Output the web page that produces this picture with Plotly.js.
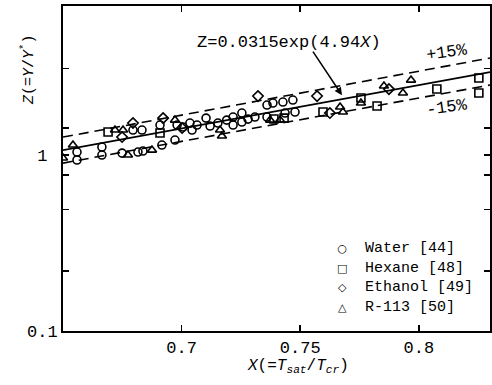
<!DOCTYPE html>
<html>
<head>
<meta charset="utf-8">
<script src="https://cdn.plot.ly/plotly-3.0.1.min.js"></script>
<style>html,body{margin:0;padding:0;background:#fff;}#chart{width:492px;height:385px;}</style>
</head>
<body>
<div id="chart"></div>
<script>
// ---- data ----
const waterX = [0.6559,0.6559,0.6664,0.6664,0.6749,0.6816,0.6837,0.6917,0.6972,0.6795,0.6833,0.6909,0.6981,0.7035,0.7044,0.7006,0.7065,0.7103,0.7120,0.7153,0.7217,0.7217,0.7254,0.7254,0.7309,0.7360,0.7360,0.7385,0.7427,0.7469,0.7436,0.7478,0.7190,0.7280];
const waterY = [1.040,0.937,1.110,1.000,1.026,1.040,1.054,1.140,1.217,1.387,1.387,1.481,1.481,1.520,1.387,1.442,1.481,1.622,1.461,1.520,1.644,1.481,1.733,1.540,1.644,1.923,1.644,1.975,2.001,2.053,1.733,1.755,1.580,1.600];
const hexaneX = [0.6690,0.6909,0.7389,0.7432,0.7596,0.7756,0.7824,0.8076,0.8253,0.8253];
const hexaneY = [1.351,1.334,1.601,1.622,1.755,2.108,1.898,2.371,2.738,2.250];
const ethanolX = [0.6749,0.6795,0.6922,0.7002,0.7322,0.7571,0.7625,0.7874];
const ethanolY = [1.266,1.520,1.622,1.424,2.164,2.164,1.733,2.371];
const r113X = [0.6500,0.6542,0.6774,0.6875,0.6719,0.6753,0.6972,0.7162,0.7170,0.7373,0.7415,0.7668,0.7680,0.7756,0.7853,0.7933,0.7967];
const r113Y = [0.962,1.140,1.000,1.067,1.387,1.387,1.580,1.387,1.283,1.580,1.580,1.874,1.755,1.975,2.466,2.250,2.667];
const lineX = [0.65, 0.83];
const fitY = [1.067, 2.96];
const upperY = [1.265, 3.56];
const lowerY = [0.90, 2.50];
const seriesNames = ['Water [44]','Hexane [48]','Ethanol [49]','R-113 [50]'];
const legendGlyphs = ['\u25CB','\u25A1','\u25C7','\u25B3'];
const xTickVals = [0.7, 0.75, 0.8];
const xTickText = ['0.7','0.75','0.8'];
const yTickVals = [0.1, 1];
const yTickText = ['0.1','1\u00a0'];
const yMinorTickVals = [0.22, 0.49, 0.77, 1.42, 3.1];
const fitLabel = 'Z=0.0315exp(4.94<i>X</i>)';

const FONT = 'Liberation Mono, Courier New, monospace';
const mk = (sym) => ({symbol: sym, size: 8, color: 'black', line: {color: 'black', width: 1.6}});

const traces = [
  {x: lineX, y: upperY, mode: 'lines', line: {color: 'black', width: 1.6, dash: '10px,6px'}, hoverinfo: 'skip'},
  {x: lineX, y: lowerY, mode: 'lines', line: {color: 'black', width: 1.6, dash: '10px,6px'}, hoverinfo: 'skip'},
  {x: lineX, y: fitY, mode: 'lines', line: {color: 'black', width: 1.8}, hoverinfo: 'skip'},
  {x: waterX, y: waterY, mode: 'markers', name: seriesNames[0], marker: mk('circle-open')},
  {x: hexaneX, y: hexaneY, mode: 'markers', name: seriesNames[1], marker: mk('square-open')},
  {x: ethanolX, y: ethanolY, mode: 'markers', name: seriesNames[2], marker: mk('diamond-open')},
  {x: r113X, y: r113Y, mode: 'markers', name: seriesNames[3], marker: mk('triangle-up-open')}
];

const axisCommon = {
  showline: true, linecolor: 'black', linewidth: 2, mirror: 'ticks',
  ticks: 'inside', ticklen: 6, tickwidth: 1.5, tickcolor: 'black',
  showgrid: false, zeroline: false,
  tickfont: {family: FONT, size: 17, color: 'black'}
};

const LEG_SIZE = 15;
const glyphText = legendGlyphs.map(g => '<span style="font-family:DejaVu Sans;font-size:11px">' + g + '</span>').join('<br>');
const nameText = seriesNames.join('<br>');

const annotations = [
  {xref: 'paper', yref: 'paper', x: 0.309, y: 0.889, xanchor: 'left', yanchor: 'middle', text: fitLabel, showarrow: false, font: {family: FONT, size: 17}},
  {x: 0.7676, y: Math.log10(2.19), text: '', showarrow: true, ax: -30, ay: -45, arrowhead: 2, arrowsize: 1, arrowwidth: 1.5, arrowcolor: 'black'},
  {xref: 'paper', yref: 'paper', x: 0.843, y: 0.858, xanchor: 'left', yanchor: 'middle', text: '+15%', textangle: -8, showarrow: false, font: {family: FONT, size: 17}},
  {xref: 'paper', yref: 'paper', x: 0.843, y: 0.689, xanchor: 'left', yanchor: 'middle', text: '-15%', textangle: -8, showarrow: false, font: {family: FONT, size: 17}},
  {xref: 'paper', yref: 'paper', x: -0.082, y: 0.803, xanchor: 'center', yanchor: 'middle', text: '<i>Z</i>(=<i>Y</i>/<i>Y</i><sup>*</sup>)', textangle: -90, showarrow: false, font: {family: FONT, size: 15}},
  {xref: 'paper', yref: 'paper', x: 0.55, y: -0.108, xanchor: 'center', yanchor: 'middle', text: '<i>X</i>(=<i>T</i><sub><i>sat</i></sub>/<i>T</i><sub><i>cr</i></sub>)', showarrow: false, font: {family: FONT, size: 16}},
  {xref: 'paper', yref: 'paper', x: 0.653, y: 0.163, xanchor: 'center', yanchor: 'middle', align: 'center', text: glyphText, showarrow: false, borderpad: 0, font: {family: FONT, size: LEG_SIZE}},
  {xref: 'paper', yref: 'paper', x: 0.705, y: 0.163, xanchor: 'left', yanchor: 'middle', align: 'left', text: nameText, showarrow: false, borderpad: 0, font: {family: FONT, size: LEG_SIZE}}
];

const layout = {
  width: 492, height: 385,
  margin: {l: 63, r: 2, t: 6, b: 54},
  paper_bgcolor: 'white', plot_bgcolor: 'white',
  font: {family: FONT, color: 'black', size: 16},
  showlegend: false,
  xaxis: Object.assign({}, axisCommon, {range: [0.65, 0.83], tickvals: xTickVals, ticktext: xTickText}),
  yaxis: Object.assign({}, axisCommon, {type: 'log', range: [-1, 0.847], tickvals: yTickVals, ticktext: yTickText,
    minor: {tickmode: 'array', tickvals: yMinorTickVals, ticks: 'inside', ticklen: 6, tickwidth: 1.5, tickcolor: 'black', showgrid: false}}),
  annotations: annotations
};

Plotly.newPlot('chart', traces, layout, {staticPlot: true, displayModeBar: false});
</script>
</body>
</html>
